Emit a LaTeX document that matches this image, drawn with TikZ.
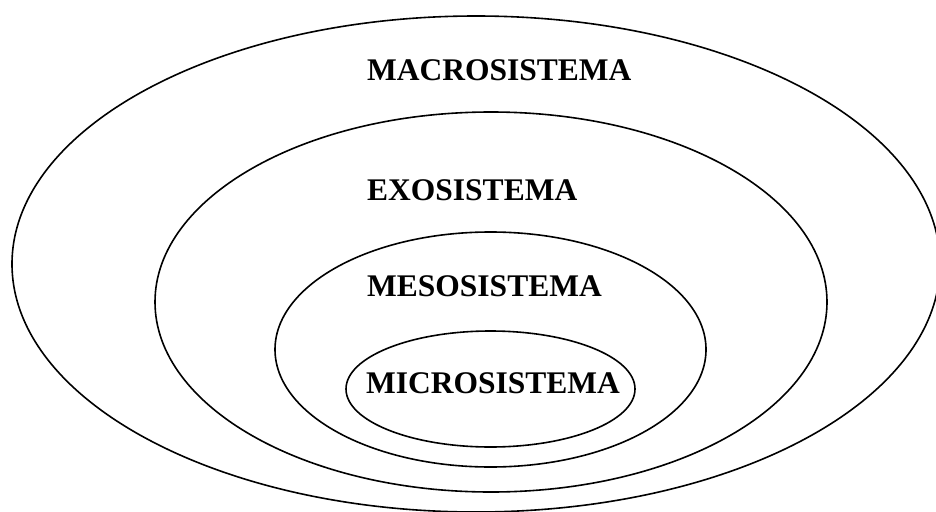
\documentclass[tikz,border=0pt]{standalone}
\usepackage{fontspec}
\setmainfont{Liberation Serif}
\usepackage{tikz}

\begin{document}
\begin{tikzpicture}[x=1pt, y=-1pt,
  ring/.style={draw=black, line width=1.6pt},
  level/.style={font=\fontsize{31.5}{36}\selectfont\bfseries, anchor=base west, inner sep=0pt}]
\useasboundingbox (0,0) rectangle (936,511);
% nested systems, outer to inner: centre x/y, radius x/y
\foreach \cx/\cy/\rx/\ry/\nm in {476/264/464/248/macro, 491/302/336/190/exo, 490.5/349.5/215.5/117.5/meso, 490.5/389/144.5/58/micro} {
  \coordinate (\nm c) at (\cx,\cy);
  \draw[ring] (\nm c) ellipse [x radius=\rx pt, y radius=\ry pt];
}
\node[level] (macrolbl) at (367,80) {MACROSISTEMA};
\node[level] (exolbl) at (367,200) {EXOSISTEMA};
\node[level] (mesolbl) at (367,296) {MESOSISTEMA};
\node[level] (microlbl) at (366,393) {MICROSISTEMA};
\end{tikzpicture}
\end{document}
